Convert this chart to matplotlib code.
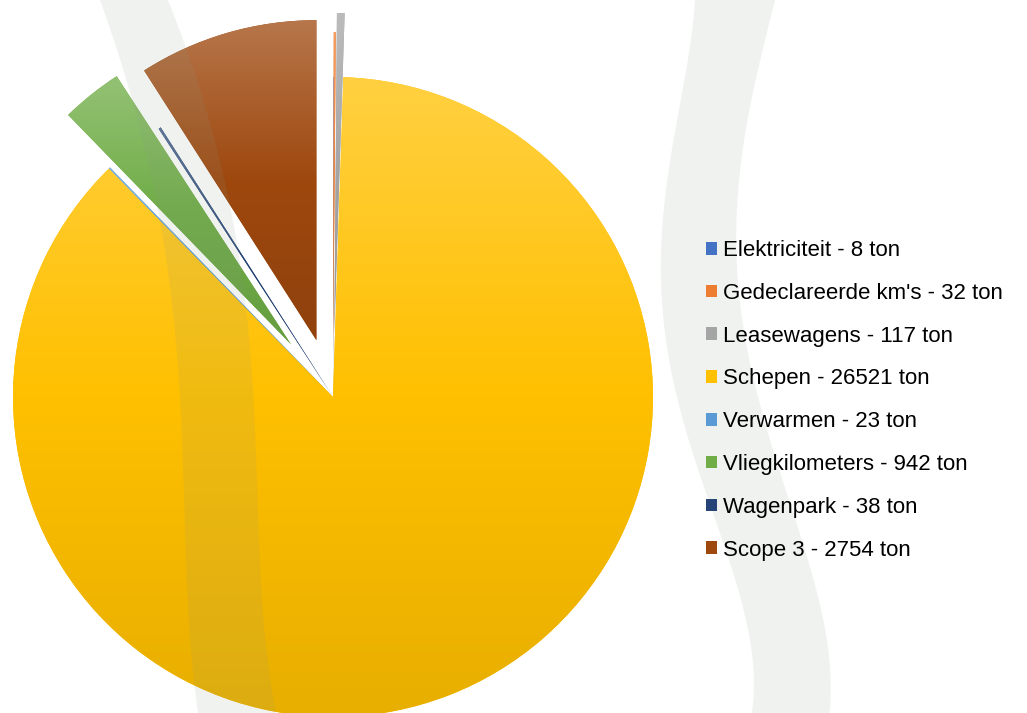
import numpy as np
import matplotlib
matplotlib.use("Agg")
import matplotlib.pyplot as plt
from matplotlib.patches import Patch, Polygon
from matplotlib.colors import to_rgb

# data
names = ["Elektriciteit", "Gedeclareerde km's", "Leasewagens", "Schepen",
         "Verwarmen", "Vliegkilometers", "Wagenpark", "Scope 3"]
values = [8, 32, 117, 26521, 23, 942, 38, 2754]
colors = ["#4472c4", "#ed7d31", "#a5a5a5", "#ffc000",
          "#5b9bd5", "#70ad47", "#264478", "#9e480e"]
explode = [0, 0.14, 0.2, 0, 0, 0.21, 0, 0.185]
labels = [f"{n} - {v} ton" for n, v in zip(names, values)]

W, H = 1027, 713
cx, cy, R = 333, 397, 320  # pie centre / radius in pixels

fig = plt.figure(figsize=(W / 100, H / 100), dpi=100)
ax = fig.add_axes([0, 0, 1, 1])

wedges, _ = ax.pie(values, colors=colors, explode=explode, startangle=90,
                   counterclock=False, radius=1,
                   wedgeprops=dict(linewidth=0))


def shade(c, t):
    c = np.array(to_rgb(c))
    if t >= 0:
        return c + (1 - c) * t
    return c * (1 + t)


# vertical gradient on each slice, lighter at the top
for w, c in zip(wedges, colors):
    ext = w.get_path().get_extents()
    t = np.linspace(1, 0, 64)
    top, mid, bot = shade(c, 0.25), shade(c, 0), shade(c, -0.09)
    grad = np.where(t[:, None] > 0.5,
                    mid + (top - mid) * (t[:, None] - 0.5) * 2,
                    bot + (mid - bot) * t[:, None] * 2)
    im = ax.imshow(grad[:, None, :], extent=[ext.x0, ext.x1, ext.y0, ext.y1],
                   aspect="auto", interpolation="bilinear", zorder=2)
    im.set_clip_path(w)

ax.set_xlim(-cx / R, (W - cx) / R)
ax.set_ylim(-(H - cy) / R, cy / R)
ax.set_aspect("auto")
ax.axis("off")

# decorative background bands (pixel coords, y from top)
ov = fig.add_axes([0, 0, 1, 1], zorder=3)
ov.set_xlim(0, W)
ov.set_ylim(H, 0)
ov.axis("off")
ov.patch.set_alpha(0)

bands = [
    ([(100, 0), (140, 130), (172, 300), (182, 450), (188, 600), (198, 713)],
     [(168, 0), (212, 130), (245, 300), (256, 450), (262, 600), (276, 713)]),
    ([(695, 0), (665, 200), (672, 380), (710, 500), (740, 600), (752, 713)],
     [(775, 0), (738, 200), (752, 380), (792, 500), (817, 600), (830, 713)]),
]
yy = np.linspace(0, H, 80)
for left, right in bands:
    lx = np.polyval(np.polyfit([p[1] for p in left], [p[0] for p in left], 4), yy)
    rx = np.polyval(np.polyfit([p[1] for p in right], [p[0] for p in right], 4), yy)
    pts = np.vstack([np.column_stack([lx, yy]), np.column_stack([rx, yy])[::-1]])
    ov.add_patch(Polygon(pts, closed=True, facecolor="#8a9a88", alpha=0.12,
                         edgecolor="none"))

handles = [Patch(facecolor=c, edgecolor="none") for c in colors]
fig.legend(handles, labels, loc="upper left",
           bbox_to_anchor=(695 / W, 1 - 229 / H), frameon=False,
           handlelength=0.5, handleheight=0.5,
           handletextpad=0.27, labelspacing=0.98, borderpad=0,
           prop={"family": "Liberation Sans", "size": 16})

fig.savefig("out.png", dpi=100)
